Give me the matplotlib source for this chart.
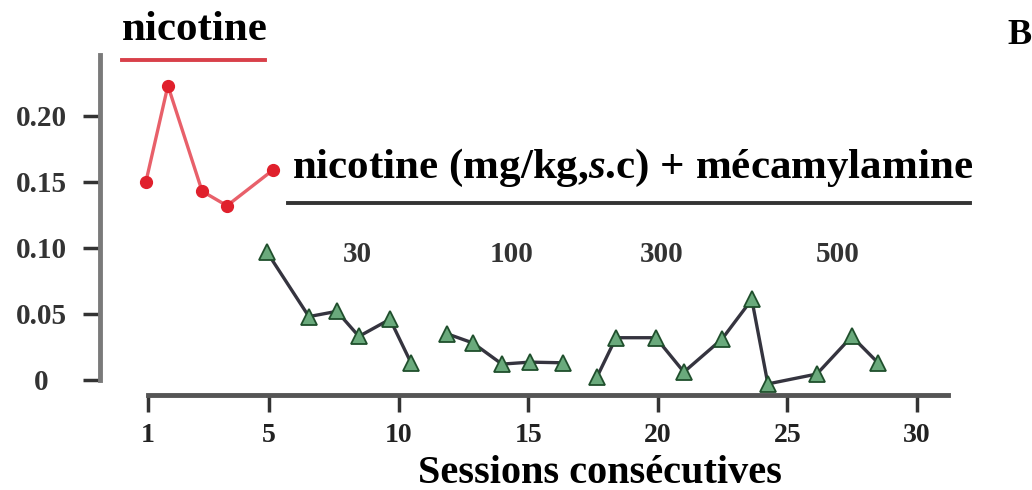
import matplotlib.pyplot as plt
from matplotlib.lines import Line2D

## Data (session position, value)
nic_x = [0.25, 1.10, 2.42, 3.38, 5.15]
nic_y = [0.150, 0.223, 0.143, 0.132, 0.159]

mec30_x = [4.92, 6.54, 7.62, 8.47, 9.67, 10.48]
mec30_y = [0.097, 0.048, 0.052, 0.033, 0.046, 0.013]

mec100_x = [11.87, 12.87, 13.99, 15.07, 16.34]
mec100_y = [0.035, 0.028, 0.012, 0.0135, 0.013]

# 300 and 500 are joined by one line in the original
mec300_500_x = [17.65, 18.39, 19.93, 21.01, 22.48, 23.63, 24.25, 26.14, 27.49, 28.50]
mec300_500_y = [0.002, 0.032, 0.032, 0.006, 0.031, 0.061, -0.003, 0.0045, 0.033, 0.013]

xtick_pos = [0.33, 5, 10, 15, 20, 25, 30]
xtick_labels = ['1', '5', '10', '15', '20', '25', '30']
ytick_pos = [0, 0.05, 0.10, 0.15, 0.20]
ytick_labels = ['0', '0.05', '0.10', '0.15', '0.20']

dose_labels = ['30', '100', '300', '500']
dose_px = [357, 512, 662, 838]

W, H = 1032, 490
plt.rcParams['font.family'] = ['Liberation Serif', 'DejaVu Serif']
plt.rcParams['font.weight'] = 'bold'
plt.rcParams['mathtext.fontset'] = 'custom'
plt.rcParams['mathtext.it'] = 'Liberation Serif:italic:bold'

fig = plt.figure(figsize=(W / 100, H / 100), dpi=100)
# axes box in pixels: left 100, right 948, top 55, bottom 395
ax = fig.add_axes([100 / W, 1 - 395 / H, 848 / W, 340 / H])
ax.set_xlim(-1.52, 31.2)
ax.set_ylim(-0.0114, 0.2462)

red_line = '#e8606a'
red_dot = '#e0202c'
g_face = '#6aaa7c'
g_edge = '#1f4f2c'
dark = '#35343f'

ax.plot(nic_x, nic_y, color=red_line, lw=2.4, marker='o', ms=8.5,
        mfc=red_dot, mec=red_dot, zorder=3)
for xs, ys in [(mec30_x, mec30_y), (mec100_x, mec100_y), (mec300_500_x, mec300_500_y)]:
    ax.plot(xs, ys, color=dark, lw=2.4, marker='^', ms=12,
            mfc=g_face, mec=g_edge, mew=1.3, zorder=3, clip_on=False)

for s in ['top', 'right']:
    ax.spines[s].set_visible(False)
ax.spines['left'].set_bounds(0, 0.2462)
ax.spines['bottom'].set_bounds(0.33, 31.2)
ax.spines['left'].set_color('#7a7a7a')
ax.spines['left'].set_linewidth(3.5)
ax.spines['bottom'].set_color('#555555')
ax.spines['bottom'].set_linewidth(3.5)

ax.set_yticks(ytick_pos)
ax.set_yticklabels(ytick_labels, ha='center')
ax.tick_params(axis='y', length=12, width=2.5, color='#333333', pad=30,
               labelsize=21, labelcolor='#333333')
ax.set_xticks(xtick_pos)
ax.set_xticklabels(xtick_labels)
ax.tick_params(axis='x', length=12, width=2.5, color='#333333', pad=8,
               labelsize=20, labelcolor='#222222')

## Annotations (figure pixel positions)
def fx(px):
    return px / W

def fy(py):
    return 1 - py / H

fig.text(fx(600), fy(473), 'Sessions consécutives', fontsize=29, fontweight='bold',
         ha='center', va='center')

fig.text(fx(195), fy(30), 'nicotine', fontsize=31, fontweight='bold', ha='center', va='center')
fig.add_artist(Line2D([fx(122), fx(265)], [fy(60), fy(60)], color='#d8404a', lw=2.8))

fig.text(fx(633), fy(168), r'nicotine (mg/kg,$\mathit{s}$.c) + mécamylamine', fontsize=31,
         fontweight='bold', ha='center', va='center')
fig.add_artist(Line2D([fx(288), fx(970)], [fy(203), fy(203)], color='#333333', lw=2.8))

for lab, px in zip(dose_labels, dose_px):
    fig.text(fx(px), fy(255), lab, fontsize=21, fontweight='bold', color='#333333',
             ha='center', va='center')

fig.text(fx(1020), fy(35), 'B', fontsize=26, fontweight='bold', ha='center', va='center')

fig.savefig('out.png', dpi=100)
plt.close('all')
